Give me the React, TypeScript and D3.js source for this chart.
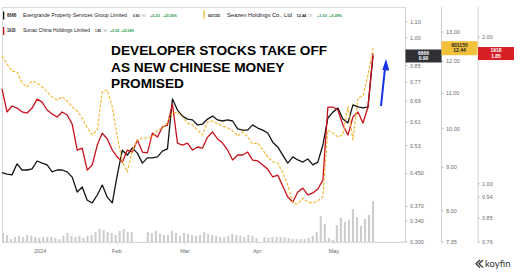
import React from "react";
import * as d3 from "d3";

// ---- data ----
const evergrande6666 = [0.452,0.448,0.446,0.476,0.459,0.459,0.462,0.484,0.478,0.473,0.454,0.459,0.459,0.454,0.440,0.403,0.415,0.384,0.378,0.396,0.420,0.391,0.378,0.446,0.516,0.501,0.523,0.507,0.478,0.493,0.493,0.496,0.513,0.520,0.698,0.654,0.631,0.620,0.617,0.599,0.602,0.620,0.631,0.617,0.613,0.617,0.613,0.585,0.581,0.581,0.599,0.588,0.581,0.571,0.541,0.526,0.501,0.478,0.496,0.487,0.481,0.490,0.473,0.481,0.532,0.624,0.646,0.662,0.620,0.606,0.674,0.666,0.662,0.666,0.90];
const seazen601155 = [12.18,11.92,11.69,11.66,11.32,11.20,11.38,11.32,11.20,11.05,10.90,10.81,10.90,10.78,10.61,10.49,10.29,10.02,9.83,9.96,11.05,11.11,10.61,9.78,9.14,8.89,9.41,9.70,9.75,9.75,9.78,9.96,10.02,10.18,10.43,10.46,10.32,10.15,10.10,9.96,9.83,10.18,10.21,10.13,10.07,10.02,9.94,9.80,9.91,9.78,9.59,9.62,9.44,9.26,9.14,9.11,8.87,8.58,8.17,8.15,8.28,8.19,8.17,8.22,8.31,9.96,9.88,9.78,9.83,10.63,9.70,10.87,10.93,11.57,12.44];
const sunac1918 = [1.565,1.404,1.444,1.430,1.404,1.397,1.430,1.492,1.471,1.417,1.390,1.371,1.404,1.384,1.326,1.173,1.184,1.067,1.093,1.201,1.271,1.236,1.173,1.135,1.108,1.173,1.162,1.230,1.162,1.157,1.271,1.247,1.308,1.320,1.458,1.212,1.201,1.212,1.173,1.190,1.184,1.247,1.277,1.236,1.212,1.173,1.119,1.146,1.146,1.162,1.119,1.114,1.093,1.072,1.033,1.042,0.990,0.940,0.918,0.962,0.980,0.949,0.958,0.976,1.018,1.437,1.437,1.417,1.320,1.259,1.371,1.404,1.333,1.437,1.85];
const volumeM: (number | null)[] = [22,17,7,12,15,12,17,15,12,10,12,12,12,10,7,15,22,15,12,15,10,15,17,24,32,29,24,22,17,27,32,24,24,null,null,null,24,22,27,20,17,17,27,22,15,22,20,17,15,17,24,20,17,15,12,12,15,20,17,15,12,17,15,10,null,12,10,12,12,12,12,10,7,7,7,7,10,15,24,63,44,10,5,41,59,49,54,80,61,39,56,66,100];

const monthLabels = ["2024", "Feb", "Mar", "Apr", "May"];
const monthIdx = [7.6, 22.9, 36.5, 50.9, 66.2];

const ticks6666 = [1.1, 1.0, 0.85, 0.77, 0.69, 0.61, 0.53, 0.45, 0.37, 0.34, 0.3];
const tickLabels6666 = ["1.10", "1.00", "0.85", "0.77", "0.69", "0.61", "0.53", "0.450", "0.370", "0.340", "0.300"];
const ticks601155 = [13, 12, 11, 10, 9, 8, 7.35];
const tickLabels601155 = ["13.00", "12.00", "11.00", "10.00", "9.00", "8.00", "7.35"];
const ticks1918 = [2.0, 1.0, 0.94, 0.85, 0.76];
const tickLabels1918 = ["2.00", "1.00", "0.94", "0.85", "0.76"];

const titleLines = ["DEVELOPER STOCKS TAKE OFF", "AS NEW CHINESE MONEY", "PROMISED"];

const FONT = "'Liberation Sans', Arial, Helvetica, sans-serif";
const GREEN = "#1e9a4b";
const C_BLACK = "#141414";
const C_RED = "#c8121b";
const C_YEL = "#f2b52a";

type LT = { t: string; x: number; w: number; fill: string; size: number; bold?: boolean };

function LegendRow({ y, items }: { y: number; items: LT[] }) {
  return (
    <g>
      {items.map((it, i) => (
        <text
          key={i}
          x={it.x}
          y={y}
          fill={it.fill}
          fontSize={it.size}
          fontWeight={it.bold ? 700 : 400}
          textLength={it.w}
          lengthAdjust="spacingAndGlyphs"
        >
          {it.t}
        </text>
      ))}
    </g>
  );
}

export default function App() {
  const x = d3.scaleLinear().domain([0, evergrande6666.length - 1]).range([2, 373]);
  const y1 = d3.scaleLog().domain([0.3, 1.1]).range([242, 22]);
  const y2 = d3.scaleLog().domain([7.35, 13]).range([242, 32]);
  const y3 = d3.scaleLog().domain([0.76, 2]).range([242, 37]);
  const xv = d3.scaleLinear().domain([0, volumeM.length - 1]).range([3, 373]);
  const yv = d3.scaleLinear().domain([0, 100]).range([242, 201]);

  const l1 = d3.line<number>().x((_, i) => x(i)).y((d) => y1(d));
  const l2 = d3.line<number>().x((_, i) => x(i)).y((d) => y2(d));
  const l3 = d3.line<number>().x((_, i) => x(i)).y((d) => y3(d));

  const last1 = evergrande6666[evergrande6666.length - 1];
  const last2 = seazen601155[seazen601155.length - 1];
  const last3 = sunac1918[sunac1918.length - 1];

  const axisColor = "#c4c4c4";
  const tickText = "#6b6b6b";

  const row1: LT[] = [
    { t: "6666", x: 7, w: 9.5, fill: "#222", size: 4.5, bold: true },
    { t: "Evergrande Property Services Group Limited", x: 23, w: 104, fill: "#222", size: 5 },
    { t: "0.90", x: 133, w: 6.5, fill: "#222", size: 4, bold: true },
    { t: "HKD", x: 141.8, w: 4, fill: "#999", size: 3 },
    { t: "+0.23", x: 150, w: 10, fill: GREEN, size: 4, bold: true },
    { t: "+25.56%", x: 163, w: 14, fill: GREEN, size: 4, bold: true },
    { t: "601155", x: 208, w: 12, fill: "#222", size: 4, bold: true },
    { t: "Seazen Holdings Co., Ltd", x: 227, w: 65, fill: "#222", size: 5 },
    { t: "12.44", x: 296.5, w: 9.8, fill: "#222", size: 4, bold: true },
    { t: "CNY", x: 308, w: 4.2, fill: "#999", size: 3 },
    { t: "+1.03", x: 317, w: 10, fill: GREEN, size: 4, bold: true },
    { t: "+9.29%", x: 329, w: 13, fill: GREEN, size: 4, bold: true },
  ];
  const row2: LT[] = [
    { t: "1918", x: 7, w: 8.5, fill: "#222", size: 4.5, bold: true },
    { t: "Sunac China Holdings Limited", x: 23, w: 67, fill: "#222", size: 5 },
    { t: "1.85", x: 95, w: 6, fill: "#222", size: 4, bold: true },
    { t: "HKD", x: 103.4, w: 4, fill: "#999", size: 3 },
    { t: "+0.30", x: 110, w: 9.3, fill: GREEN, size: 4, bold: true },
    { t: "+20.54%", x: 121, w: 13.3, fill: GREEN, size: 4, bold: true },
  ];

  return (
    <svg width={520} height={272} style={{ position: "absolute", left: 0, top: 0, background: "#fff" }} fontFamily={FONT}>
      <rect x={0} y={0} width={520} height={272} fill="#fff" />
      {/* frame */}
      <line x1={2} y1={7.5} x2={405} y2={7.5} stroke="#d0d0d0" strokeWidth={0.8} />
      <line x1={2.5} y1={7.5} x2={2.5} y2={242} stroke="#d0d0d0" strokeWidth={0.8} />
      <line x1={2} y1={242.3} x2={405} y2={242.3} stroke={axisColor} strokeWidth={0.8} />

      {/* volume bars */}
      {volumeM.map((v, i) =>
        v == null ? null : (
          <rect key={i} x={xv(i) - 1} y={yv(v)} width={2.1} height={yv(0) - yv(v)} fill="#cdcdcd" />
        )
      )}

      {/* x axis labels */}
      {monthLabels.map((m, i) => (
        <g key={m}>
          <line x1={x(monthIdx[i])} x2={x(monthIdx[i])} y1={242.3} y2={244.5} stroke={axisColor} strokeWidth={0.6} />
          <text x={x(monthIdx[i])} y={253} fontSize={5.5} fill={tickText} textAnchor="middle">{m}</text>
        </g>
      ))}

      {/* right axes */}
      {[405.5, 441.5, 478].map((ax) => (
        <line key={ax} x1={ax} x2={ax} y1={7} y2={242.3} stroke={axisColor} strokeWidth={0.8} />
      ))}
      {ticks6666.map((t, i) => (
        <g key={"a" + i}>
          <line x1={405.5} x2={407.5} y1={y1(t)} y2={y1(t)} stroke="#999" strokeWidth={0.6} />
          <text x={410} y={y1(t) + 1.9} fontSize={5.5} fill={tickText}>{tickLabels6666[i]}</text>
        </g>
      ))}
      {ticks601155.map((t, i) => (
        <g key={"b" + i}>
          <line x1={441.5} x2={443.5} y1={y2(t)} y2={y2(t)} stroke="#999" strokeWidth={0.6} />
          <text x={446} y={y2(t) + 1.9} fontSize={5.5} fill={tickText}>{tickLabels601155[i]}</text>
        </g>
      ))}
      {ticks1918.map((t, i) => (
        <g key={"c" + i}>
          <line x1={478} x2={480} y1={y3(t)} y2={y3(t)} stroke="#999" strokeWidth={0.6} />
          <text x={482} y={y3(t) + 1.9} fontSize={5.5} fill={tickText}>{tickLabels1918[i]}</text>
        </g>
      ))}

      {/* series */}
      <path d={l1(evergrande6666) || ""} fill="none" stroke={C_BLACK} strokeWidth={1.3} strokeLinejoin="round" />
      <path d={l3(sunac1918) || ""} fill="none" stroke={C_RED} strokeWidth={1.3} strokeLinejoin="round" />
      <path d={l2(seazen601155) || ""} fill="none" stroke={C_YEL} strokeWidth={1.1} strokeDasharray="3,1.6" strokeLinejoin="round" />

      {/* last value labels */}
      <g>
        <rect x={405.5} y={y1(last1) - 6.5} width={36} height={13} fill="#2e3035" />
        <text x={423.5} y={y1(last1) - 1.3} fontSize={5} fontWeight={700} fill="#fff" textAnchor="middle">6666</text>
        <text x={423.5} y={y1(last1) + 4} fontSize={5} fontWeight={700} fill="#fff" textAnchor="middle">{last1.toFixed(2)}</text>
      </g>
      <g>
        <rect x={441.5} y={y2(last2) - 7} width={36} height={14} fill="#f3c13c" />
        <text x={459.5} y={y2(last2) - 1.5} fontSize={5} fontWeight={700} fill="#222" textAnchor="middle">601155</text>
        <text x={459.5} y={y2(last2) + 4} fontSize={5} fontWeight={700} fill="#222" textAnchor="middle">{last2.toFixed(2)}</text>
      </g>
      <g>
        <rect x={478} y={y3(last3) - 6.5} width={36} height={13} fill="#d71f26" />
        <text x={496} y={y3(last3) - 1.3} fontSize={5} fontWeight={700} fill="#fff" textAnchor="middle">1918</text>
        <text x={496} y={y3(last3) + 4} fontSize={5} fontWeight={700} fill="#fff" textAnchor="middle">{last3.toFixed(2)}</text>
      </g>

      {/* legend */}
      <rect x={3} y={11.5} width={1.3} height={8} fill={C_BLACK} />
      <rect x={203.5} y={10.5} width={1.3} height={8} fill={C_YEL} />
      <rect x={3} y={27} width={1.3} height={8} fill={C_RED} />
      <LegendRow y={17.3} items={row1} />
      <LegendRow y={32.3} items={row2} />

      {/* title */}
      {titleLines.map((t, i) => (
        <text key={t} x={111} y={55 + i * 16.5} fontSize={13.7} fontWeight={700} fill="#000">{t}</text>
      ))}

      {/* arrow */}
      <line x1={381} y1={106} x2={385} y2={68} stroke="#1432e6" strokeWidth={2} />
      <path d="M386,59 L382.3,70 L389.3,70.6 Z" fill="#1432e6" />

      {/* koyfin logo */}
      <g transform="translate(476,260)">
        <path d="M4,0 L0,3.8 L4,7.6 M7,0 L3,3.8 L7,7.6" fill="none" stroke="#333" strokeWidth={1.3} />
      </g>
      <text x={485} y={267} fontSize={9.5} fill="#333" fontFamily="Lato, 'Open Sans', sans-serif">koyfin</text>
    </svg>
  );
}
